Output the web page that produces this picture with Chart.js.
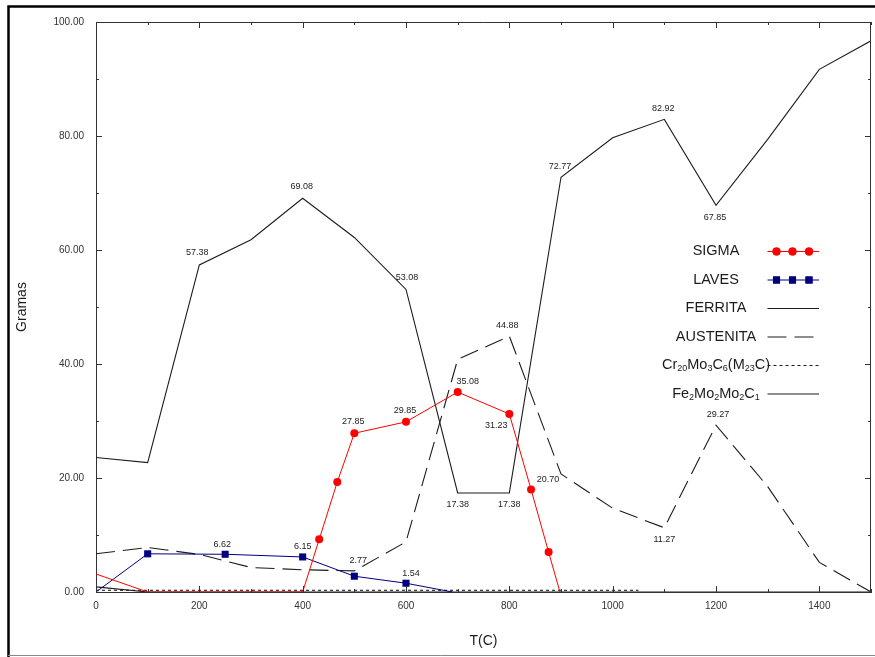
<!DOCTYPE html>
<html>
<head>
<meta charset="utf-8">
<script src="https://cdn.jsdelivr.net/npm/chart.js@4/dist/chart.umd.min.js"></script>
<style>
  html, body { margin: 0; padding: 0; background: #fff; }
  #wrap { position: relative; width: 875px; height: 657px; }
</style>
</head>
<body>
<div id="wrap"><canvas id="c" width="875" height="657"></canvas></div>
<script>
// Phase masses (g) versus temperature (C)
const sigmaT = [0, 100, 400, 432, 467, 500, 600, 700, 800, 842, 876, 898];
const sigmaG = [3.15, 0, 0, 9.24, 19.3, 27.85, 29.85, 35.08, 31.23, 18.0, 7.0, 0];

const lavesT = [0, 100, 250, 400, 500, 600, 690];
const lavesG = [0, 6.7, 6.62, 6.15, 2.77, 1.54, 0];

const ferritaT = [0, 100, 200, 300, 400, 500, 600, 700, 800, 900, 1000, 1100, 1200, 1300, 1400, 1500];
const ferritaG = [23.6, 22.7, 57.38, 61.8, 69.08, 62.2, 53.08, 17.38, 17.38, 72.77, 79.7, 82.92, 67.85, 79.4, 91.7, 96.7];

const austenitaT = [0, 100, 200, 300, 400, 500, 600, 700, 800, 900, 1000, 1100, 1200, 1300, 1400, 1500];
const austenitaG = [6.7, 7.8, 6.6, 4.3, 3.9, 3.7, 8.8, 40.8, 44.88, 20.70, 14.7, 11.27, 29.27, 18.5, 5.2, 0];

const carbCrT = [0, 1050];
const carbCrG = [0.3, 0.3];

const carbFeT = [0, 100, 1500];
const carbFeG = [0.9, 0, 0];

const seriesNames = ['SIGMA', 'LAVES', 'FERRITA', 'AUSTENITA', 'Cr20Mo3C6(M23C)', 'Fe2Mo2Mo2C1'];

// Axis ticks
const xTickValues = [0, 200, 400, 600, 800, 1000, 1200, 1400];
const yTickValues = [0, 20, 40, 60, 80, 100];

// Temperatures whose values are printed next to the curve
const labelledT = {
  FERRITA: [200, 400, 600, 700, 800, 900, 1100, 1200],
  AUSTENITA: [800, 900, 1100, 1200],
  SIGMA: [500, 600, 700, 800],
  LAVES: [250, 400, 500, 600]
};

const toPoints = (ts, gs) => ts.map((t, i) => ({ x: t, y: gs[i] }));
const FONT = "Arial, 'Liberation Sans', sans-serif";
const INK = '#1c1c1c';

// Placement of value labels relative to their point (px)
const labelOffset = {
  FERRITA: { 200: [-2, -12], 400: [-1, -12], 600: [1, -12], 700: [0, 12], 800: [0, 12], 900: [-1, -11], 1100: [-1, -11], 1200: [-1, 12] },
  AUSTENITA: { 800: [-2, -11], 900: [-13, 6], 1100: [0, 12], 1200: [2, -11] },
  SIGMA: { 500: [-1, -12], 600: [-1, -11], 700: [10, -11], 800: [-13, 12] },
  LAVES: { 250: [-3, -10], 400: [0, -10], 500: [4, -16], 600: [5, -10] }
};

const frame = {
  id: 'frame',
  beforeDraw(chart) {
    const ctx = chart.ctx;
    ctx.save();
    ctx.fillStyle = '#fff';
    ctx.fillRect(0, 0, chart.width, chart.height);
    ctx.strokeStyle = '#000';
    ctx.lineWidth = 2.5;
    ctx.beginPath();
    ctx.moveTo(8.5, chart.height);
    ctx.lineTo(8.5, 6.5);
    ctx.lineTo(chart.width, 6.5);
    ctx.stroke();
    ctx.strokeStyle = '#888';
    ctx.lineWidth = 1;
    ctx.beginPath();
    ctx.moveTo(8, 655.5);
    ctx.lineTo(chart.width, 655.5);
    ctx.stroke();
    ctx.restore();
  },
  afterDraw(chart) {
    const ctx = chart.ctx, a = chart.chartArea;
    const xs = chart.scales.x, ys = chart.scales.y;
    ctx.save();
    ctx.strokeStyle = '#333';
    ctx.lineWidth = 1;
    ctx.beginPath();
    // top and right edges of the plot box
    ctx.moveTo(a.left, a.top + 0.5);
    ctx.lineTo(a.right - 0.5, a.top + 0.5);
    ctx.lineTo(a.right - 0.5, a.bottom);
    // inward tick marks, long on labelled values, short half-way between
    const xStep = xTickValues[1] - xTickValues[0];
    for (let t = xs.min; t <= xs.max; t += xStep / 2) {
      const px = Math.round(xs.getPixelForValue(t)) + 0.5;
      const len = xTickValues.includes(t) ? 6 : 3;
      ctx.moveTo(px, a.bottom); ctx.lineTo(px, a.bottom - len);
      ctx.moveTo(px, a.top); ctx.lineTo(px, a.top + len);
    }
    const yStep = yTickValues[1] - yTickValues[0];
    for (let v = ys.min; v <= ys.max; v += yStep / 2) {
      const py = Math.round(ys.getPixelForValue(v)) + 0.5;
      const len = yTickValues.includes(v) ? 6 : 3;
      ctx.moveTo(a.left, py); ctx.lineTo(a.left + len, py);
      ctx.moveTo(a.right, py); ctx.lineTo(a.right - len, py);
    }
    ctx.stroke();
    ctx.restore();
  }
};

const valueLabels = {
  id: 'valueLabels',
  afterDatasetsDraw(chart) {
    const ctx = chart.ctx;
    const xs = chart.scales.x, ys = chart.scales.y;
    ctx.save();
    ctx.font = '9px ' + FONT;
    ctx.fillStyle = INK;
    ctx.textAlign = 'center';
    ctx.textBaseline = 'middle';
    chart.data.datasets.forEach(ds => {
      const temps = labelledT[ds.label];
      if (!temps) return;
      temps.forEach(t => {
        const p = ds.data.find(d => d.x === t);
        if (!p) return;
        const off = labelOffset[ds.label][t] || [0, -11];
        ctx.fillText(p.y.toFixed(2), xs.getPixelForValue(p.x) + off[0], ys.getPixelForValue(p.y) + off[1]);
      });
    });
    ctx.restore();
  }
};

// Legend: centred name, then a sample of the line to its right
const sideLegend = {
  id: 'sideLegend',
  afterDraw(chart) {
    const ctx = chart.ctx;
    const centreX = 716, lineX0 = 767.5, lineX1 = 819, rowY0 = 251, rowGap = 28.5;
    const big = '14.5px ' + FONT, small = '9px ' + FONT;
    ctx.save();
    chart.data.datasets.forEach((ds, i) => {
      const y = rowY0 + i * rowGap;
      // split digits out as subscripts
      const parts = ds.label.split(/(\d+)/).filter(s => s.length);
      let w = 0;
      parts.forEach(s => { ctx.font = /^\d+$/.test(s) ? small : big; w += ctx.measureText(s).width; });
      let x = centreX - w / 2;
      ctx.fillStyle = INK;
      ctx.textAlign = 'left';
      ctx.textBaseline = 'middle';
      parts.forEach(s => {
        const sub = /^\d+$/.test(s);
        ctx.font = sub ? small : big;
        ctx.fillText(s, x, sub ? y + 4 : y);
        x += ctx.measureText(s).width;
      });
      ctx.strokeStyle = ds.borderColor;
      ctx.lineWidth = ds.borderWidth;
      ctx.setLineDash(ds.borderDash || []);
      ctx.beginPath();
      ctx.moveTo(lineX0, y + 0.5);
      ctx.lineTo(lineX1, y + 0.5);
      ctx.stroke();
      ctx.setLineDash([]);
      if (ds.legendMarker) {
        ctx.fillStyle = ds.borderColor;
        [776.5, 792.5, 809].forEach(mx => {
          Chart.helpers.drawPoint(ctx, { pointStyle: ds.pointStyle, radius: ds.legendMarker, rotation: 0, borderWidth: 0 }, mx, y + 0.5);
          ctx.fill();
        });
      }
    });
    ctx.restore();
  }
};

const chart = new Chart(document.getElementById('c'), {
  type: 'line',
  data: {
    datasets: [
      {
        label: seriesNames[0], data: toPoints(sigmaT, sigmaG),
        borderColor: '#ff0000', backgroundColor: '#ff0000', borderWidth: 1,
        pointStyle: 'circle', pointBorderWidth: 0, legendMarker: 4,
        pointRadius: c => (c.raw && c.raw.x > 400 && c.raw.x < 898) ? 4 : 0
      },
      {
        label: seriesNames[1], data: toPoints(lavesT, lavesG),
        borderColor: '#000080', backgroundColor: '#000080', borderWidth: 1,
        pointStyle: 'rect', pointBorderWidth: 0, legendMarker: 5,
        pointRadius: c => (c.raw && c.raw.x > 0 && c.raw.x < 690) ? 5 : 0
      },
      {
        label: seriesNames[2], data: toPoints(ferritaT, ferritaG),
        borderColor: INK, borderWidth: 1.1, pointRadius: 0
      },
      {
        label: seriesNames[3], data: toPoints(austenitaT, austenitaG),
        borderColor: INK, borderWidth: 1.1, borderDash: [19, 8], pointRadius: 0
      },
      {
        label: seriesNames[4], data: toPoints(carbCrT, carbCrG),
        borderColor: INK, borderWidth: 1.1, borderDash: [3, 3], pointRadius: 0
      },
      {
        label: seriesNames[5], data: toPoints(carbFeT, carbFeG),
        borderColor: INK, borderWidth: 1.1, pointRadius: 0
      }
    ]
  },
  options: {
    responsive: false,
    animation: false,
    events: [],
    layout: { padding: { left: 0, right: 4, top: 22, bottom: 0 } },
    plugins: { legend: { display: false }, tooltip: { enabled: false } },
    scales: {
      x: {
        type: 'linear', min: 0, max: 1500,
        afterBuildTicks: s => { s.ticks = xTickValues.map(v => ({ value: v })); },
        afterFit: s => { s.height = 65; },
        ticks: { callback: v => String(v), font: { family: FONT, size: 10 }, color: '#333', padding: 8, maxRotation: 0, autoSkip: false },
        grid: { display: true, drawOnChartArea: false, drawTicks: false },
        border: { display: true, color: '#333', width: 1 },
        title: { display: true, text: 'T(C)', font: { family: FONT, size: 14 }, color: INK, padding: { top: 0, bottom: 7.6 } }
      },
      y: {
        type: 'linear', min: 0, max: 100,
        afterBuildTicks: s => { s.ticks = yTickValues.map(v => ({ value: v })); },
        afterFit: s => { s.width = 96; },
        ticks: { callback: v => Number(v).toFixed(2), font: { family: FONT, size: 10 }, color: '#333', padding: 12 },
        grid: { display: true, drawOnChartArea: false, drawTicks: false },
        border: { display: true, color: '#333', width: 1 },
        title: { display: true, text: 'Gramas', font: { family: FONT, size: 14 }, color: INK, padding: { top: 14, bottom: 0 } }
      }
    }
  },
  plugins: [frame, valueLabels, sideLegend]
});
</script>
</body>
</html>
